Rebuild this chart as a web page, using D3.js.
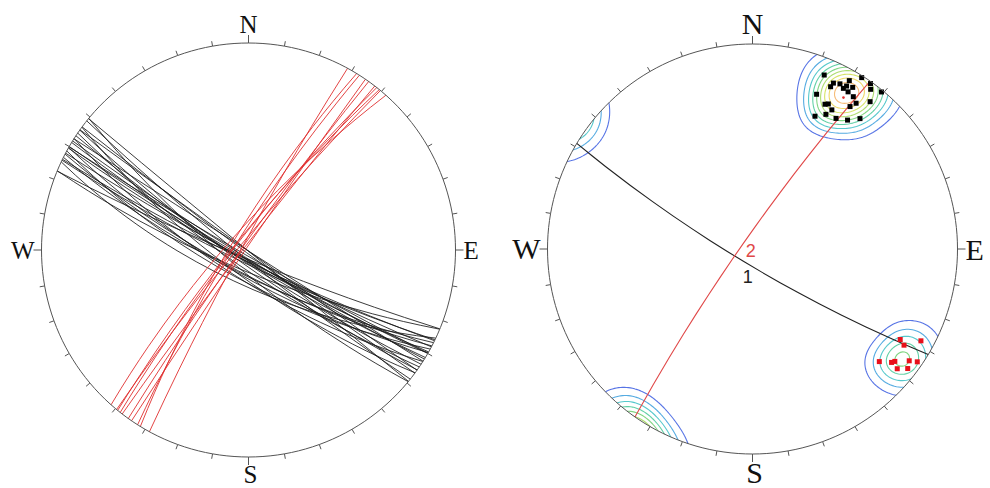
<!DOCTYPE html>
<html>
<head>
<meta charset="utf-8">
<script src="https://cdn.jsdelivr.net/npm/d3@7"></script>
<style>
  body { margin: 0; background: #fff; }
  svg { display: block; }
</style>
</head>
<body>
<svg id="vis" width="990" height="488"></svg>
<script>
// poles to planes, [trend, plunge] in degrees (set 1 = black, set 2 = red)
const blackPoles = [
  [22.4, 4.9], [32.5, 0.5], [35.5, 0.5], [39.4, 0.5], [36.5, 1.8], [38.6, 4.8],
  [26.0, 6.0], [25.7, 7.4], [29.9, 3.1], [30.0, 4.9], [31.8, 4.3], [29.5, 6.0],
  [33.5, 6.6], [22.5, 11.5], [35.4, 7.8], [26.6, 13.4], [27.6, 12.8], [29.7, 14.0],
  [34.4, 9.8], [25.2, 18.8], [28.6, 16.4], [32.6, 15.8], [36.4, 14.0], [39.5, 11.0],
  [27.9, 5.3], [31.3, 6.2]
];
const redPoles = [
  [121.5, 9.6], [118.6, 3.8], [122.4, 7.6], [131.6, 10.8], [129.2, 7.6],
  [128.3, 7.0], [125.5, 3.6], [124.4, 1.5], [129.6, 5.0], [127.6, 2.6]
];
// mean planes of each set, [dip direction, dip]
const meanPlanes = [
  { dipDir: 211, dip: 81.5, label: "1", color: "#222" },
  { dipDir: 305, dip: 84, label: "2", color: "#e04848" }
];
const meanPole1 = [31, 8.5];
const contourLevels = [0.1, 0.2, 0.3, 0.4, 0.5, 0.6, 0.7, 0.8, 0.9];
const compass = [["N", 0], ["E", 90], ["S", 180], ["W", 270]];
const tickAz = d3.range(0, 360, 10);

const svg = d3.select("#vis");

const nets = [
  { cx: 248.5, cy: 250, r: 207, font: 25 },
  { cx: 752.5, cy: 249, r: 205, font: 30 }
];

const toLonLat = (trend, plunge) => [180 - trend, plunge];
const planeLine = (dd, dip) => ({
  type: "LineString",
  coordinates: [toLonLat(dd - 90, 0), toLonLat(dd, dip), toLonLat(dd + 90, 0)]
});
const poleToPlane = ([t, p]) => planeLine(t + 180, 90 - p);

function makeProj(net) {
  return d3.geoStereographic()
    .rotate([0, -90])
    .scale(net.r)
    .translate([net.cx, net.cy])
    .clipAngle(90)
    .precision(0.1);
}

function drawFrame(g, net, proj) {
  const path = d3.geoPath(proj);
  g.append("path")
    .attr("d", path({ type: "Sphere" }))
    .attr("fill", "none")
    .attr("stroke", "#555")
    .attr("stroke-width", 1);

  g.selectAll("line.tick")
    .data(tickAz)
    .join("line")
      .attr("class", "tick")
      .each(function (az) {
        const [x, y] = proj(toLonLat(az, 0));
        const ux = (x - net.cx) / net.r, uy = (y - net.cy) / net.r;
        const len = az % 90 === 0 ? 8 : 5;
        d3.select(this)
          .attr("x1", x).attr("y1", y)
          .attr("x2", x + ux * len).attr("y2", y + uy * len);
      })
      .attr("stroke", "#555")
      .attr("stroke-width", 1);

  g.selectAll("text.dir")
    .data(compass)
    .join("text")
      .attr("class", "dir")
      .each(function ([lab, az]) {
        const t = d3.select(this);
        const [x, y] = proj(toLonLat(az, 0));
        if (lab === "N") t.attr("x", x).attr("y", y - 10).attr("text-anchor", "middle");
        if (lab === "S") t.attr("x", x + 2).attr("y", y + 9 + net.font * 0.66).attr("text-anchor", "middle");
        if (lab === "W") t.attr("x", x - 7).attr("y", y + net.font * 0.34).attr("text-anchor", "end");
        if (lab === "E") t.attr("x", x + 8).attr("y", y + net.font * 0.36).attr("text-anchor", "start");
      })
      .attr("font-family", "'Liberation Serif', 'Times New Roman', serif")
      .attr("font-size", net.font)
      .attr("fill", "#111")
      .text(d => d[0]);
}

// ---------- left net: great circles ----------
{
  const net = nets[0];
  const proj = makeProj(net);
  const path = d3.geoPath(proj);
  const g = svg.append("g");

  g.selectAll("path.black")
    .data(blackPoles)
    .join("path")
      .attr("class", "black")
      .attr("d", d => path(poleToPlane(d)))
      .attr("fill", "none")
      .attr("stroke", "#1a1a1a")
      .attr("stroke-opacity", 0.85)
      .attr("stroke-width", 1);

  g.selectAll("path.red")
    .data(redPoles)
    .join("path")
      .attr("class", "red")
      .attr("d", d => path(poleToPlane(d)))
      .attr("fill", "none")
      .attr("stroke", "#e03030")
      .attr("stroke-opacity", 0.9)
      .attr("stroke-width", 1);

  drawFrame(g, net, proj);
}

// ---------- right net: pole density contours ----------
{
  const net = nets[1];
  const proj = makeProj(net);
  const path = d3.geoPath(proj);
  const g = svg.append("g");

  svg.append("clipPath").attr("id", "primClip")
    .append("circle").attr("cx", net.cx).attr("cy", net.cy).attr("r", net.r);

  const rad = Math.PI / 180;
  const vec = ([lon, lat]) => [
    Math.cos(lat * rad) * Math.cos(lon * rad),
    Math.cos(lat * rad) * Math.sin(lon * rad),
    Math.sin(lat * rad)
  ];
  const poleVecs = blackPoles.concat(redPoles).map(d => vec(toLonLat(d[0], d[1])));
  const kappa = 120;
  const step = 2, pad = 16;
  const gx0 = net.cx - net.r - pad, gy0 = net.cy - net.r - pad;
  const n = Math.ceil(2 * (net.r + pad) / step);
  const values = new Float64Array(n * n);
  for (let j = 0; j < n; j++) {
    for (let i = 0; i < n; i++) {
      const v = vec(proj.invert([gx0 + (i + 0.5) * step, gy0 + (j + 0.5) * step]));
      let s = 0;
      for (const p of poleVecs) {
        s += Math.exp(kappa * (Math.abs(v[0] * p[0] + v[1] * p[1] + v[2] * p[2]) - 1));
      }
      values[j * n + i] = s;
    }
  }
  const maxD = d3.max(values);
  const colour = d3.scaleSequential(
    d3.interpolateRgbBasis(["#3a5ce0", "#35b8e0", "#38c8a8", "#66cc66", "#b8dc50", "#ece24a", "#f4b060"])
  ).domain([0, contourLevels.length - 1]);

  const contours = d3.contours().size([n, n]).thresholds(contourLevels.map(f => f * maxD))(values);
  const gridPath = d3.geoPath(d3.geoIdentity().scale(step).translate([gx0, gy0]));

  g.append("g")
    .attr("clip-path", "url(#primClip)")
    .selectAll("path")
    .data(contours)
    .join("path")
      .attr("d", gridPath)
      .attr("fill", "none")
      .attr("stroke", (d, i) => colour(i))
      .attr("stroke-width", 1.1)
      .attr("stroke-opacity", 0.85);

  // mean planes
  g.selectAll("path.mean")
    .data(meanPlanes)
    .join("path")
      .attr("class", "mean")
      .attr("d", d => path(planeLine(d.dipDir, d.dip)))
      .attr("fill", "none")
      .attr("stroke", d => d.color)
      .attr("stroke-width", 1.1);

  g.selectAll("text.meanlab")
    .data(meanPlanes)
    .join("text")
      .attr("class", "meanlab")
      .attr("x", d => proj(toLonLat(d.dipDir, d.dip))[0] + (d.label === "1" ? 3 : 7))
      .attr("y", d => proj(toLonLat(d.dipDir, d.dip))[1] + (d.label === "1" ? 21 : 14))
      .attr("text-anchor", "middle")
      .attr("font-family", "'Liberation Sans', Arial, sans-serif")
      .attr("font-size", 18)
      .attr("fill", d => d.color)
      .text(d => d.label);

  // poles
  const sq = 5;
  g.selectAll("rect.bp")
    .data(blackPoles)
    .join("rect")
      .attr("class", "bp")
      .attr("x", d => proj(toLonLat(d[0], d[1]))[0] - sq / 2)
      .attr("y", d => proj(toLonLat(d[0], d[1]))[1] - sq / 2)
      .attr("width", sq).attr("height", sq)
      .attr("fill", "#000");

  g.selectAll("rect.rp")
    .data(redPoles)
    .join("rect")
      .attr("class", "rp")
      .attr("x", d => proj(toLonLat(d[0], d[1]))[0] - sq / 2)
      .attr("y", d => proj(toLonLat(d[0], d[1]))[1] - sq / 2)
      .attr("width", sq).attr("height", sq)
      .attr("fill", "#e8101a");

  g.append("circle")
    .attr("cx", proj(toLonLat(...meanPole1))[0])
    .attr("cy", proj(toLonLat(...meanPole1))[1])
    .attr("r", 1.3)
    .attr("fill", "#e03030");

  drawFrame(g, net, proj);
}
</script>
</body>
</html>
